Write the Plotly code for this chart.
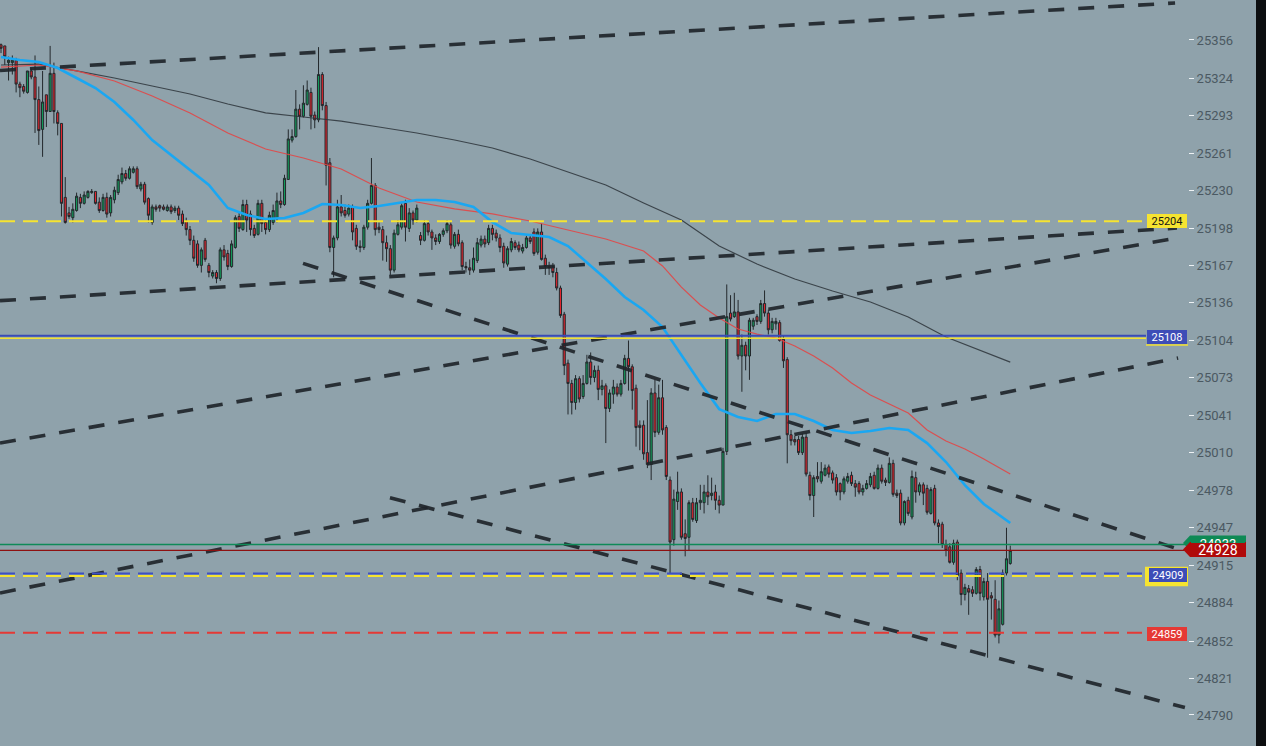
import plotly.graph_objects as go

# ---------------- candle data (price units) ----------------
open_ = [25352,25351,25337,25337,25339,25319,25317,25312,25330,25325,25306,25281,25310,25296,25328,25295,25286,25224,25211,25207,
         25213,25224,25219,25224,25228,25229,25220,25213,25224,25211,25222,25228,25237,25244,25240,25245,25248,25231,25235,25223,
         25203,25216,25217,25216,25213,25216,25213,25215,25210,25204,25197,25188,25185,25167,25188,25167,25158,25161,25156,25180,
         25177,25166,25182,25208,25197,25218,25210,25198,25193,25219,25203,25197,25203,25206,25221,25218,25239,25272,25275,25298,
         25292,25302,25312,25293,25289,25327,25301,25253,25182,25190,25216,25213,25210,25216,25198,25183,25182,25199,25219,25234,
         25199,25197,25186,25181,25163,25193,25199,25219,25198,25211,25205,25192,25188,25202,25195,25190,25187,25193,25196,25201,
         25183,25193,25186,25166,25165,25163,25171,25184,25189,25186,25198,25194,25190,25183,25168,25180,25186,25184,25179,25182,
         25190,25195,25178,25195,25173,25166,25166,25161,25148,25126,25085,25068,25052,25072,25057,25068,25086,25073,25079,25063,
         25066,25047,25059,25065,25059,25068,25089,25082,25064,25033,25033,25010,25000,25060,25027,25056,25031,24987,24937,24969,
         24977,24942,24939,24968,24953,24968,24968,24977,24974,24977,24970,24966,25011,25127,25124,25128,25091,25100,25091,25116,
         25124,25120,25135,25127,25113,25118,25119,25105,25088,25025,25021,25021,25010,25023,24991,24974,24990,24986,24991,24998,
         24993,24989,24984,24977,24986,24991,24984,24984,24977,24980,24983,24991,24980,24997,24987,24985,25001,24976,24976,24951,
         24970,24956,24989,24977,24983,24980,24959,24980,24951,24950,24933,24931,24918,24935,24909,24891,24896,24895,24892,24912,
         24889,24902,24890,24887,24857,24866,24909,24917]
high = [25353,25351,25342,25343,25341,25321,25319,25330,25332,25343,25317,25330,25310,25351,25337,25297,25286,25241,25216,25219,
        25228,25227,25229,25230,25231,25229,25224,25227,25228,25226,25233,25243,25249,25247,25250,25250,25250,25237,25237,25224,
        25218,25218,25218,25218,25218,25218,25217,25217,25213,25207,25200,25192,25188,25182,25190,25169,25163,25163,25182,25184,
        25180,25188,25209,25212,25222,25222,25213,25201,25222,25222,25205,25212,25218,25228,25229,25243,25281,25281,25314,25302,
        25318,25322,25316,25296,25350,25329,25304,25257,25192,25222,25226,25218,25218,25218,25201,25188,25201,25222,25257,25236,
        25203,25200,25192,25184,25197,25205,25219,25222,25215,25213,25218,25195,25205,25205,25197,25193,25194,25198,25205,25203,
        25195,25197,25188,25170,25172,25182,25190,25192,25192,25201,25201,25197,25193,25186,25183,25190,25188,25187,25185,25192,
        25192,25198,25198,25202,25176,25170,25169,25165,25150,25128,25088,25071,25075,25074,25075,25092,25094,25083,25083,25071,
        25068,25063,25071,25068,25071,25092,25104,25084,25067,25037,25037,25054,25064,25071,25067,25071,25033,24990,24979,24994,
        24980,24954,24970,24972,24972,24983,24983,24991,24989,24983,24974,25014,25151,25142,25144,25138,25109,25103,25123,25123,
        25126,25138,25146,25130,25123,25123,25121,25108,25090,25029,25024,25024,25026,25026,24994,24991,25002,25002,25000,25000,
        24995,24992,24985,24990,24993,24994,24987,24986,24983,24987,24993,24994,25000,25000,24989,25006,25004,24979,24979,24970,
        24973,24995,24994,24985,24985,24983,24981,24983,24954,24952,24937,24934,24937,24937,24912,24900,24899,24898,24914,24915,
        24905,24909,24893,24903,24886,24912,24947,24932]
low = [25345,25335,25322,25327,25312,25308,25311,25311,25323,25278,25268,25258,25283,25296,25286,25276,25208,25202,25206,25203,
       25212,25215,25218,25223,25227,25218,25211,25212,25207,25208,25219,25226,25235,25238,25239,25244,25231,25229,25218,25203,
       25201,25212,25212,25213,25212,25210,25211,25205,25200,25192,25184,25170,25165,25161,25170,25157,25156,25152,25154,25171,
       25163,25165,25181,25195,25196,25195,25192,25190,25192,25195,25193,25195,25201,25203,25215,25217,25239,25270,25274,25281,
       25291,25301,25281,25282,25287,25297,25234,25178,25157,25188,25208,25207,25208,25188,25180,25178,25180,25197,25218,25192,
       25194,25171,25170,25159,25161,25192,25197,25187,25195,25201,25203,25184,25187,25192,25180,25184,25185,25191,25194,25181,
       25181,25183,25163,25161,25159,25161,25169,25182,25182,25184,25188,25187,25178,25165,25166,25178,25180,25178,25177,25181,
       25185,25175,25176,25171,25159,25159,25157,25146,25123,25075,25042,25042,25046,25052,25055,25067,25067,25069,25054,25058,
       25018,25044,25051,25057,25057,25067,25062,25046,25015,25012,25004,24997,24987,25023,25025,25025,24987,24909,24932,24962,
       24937,24923,24928,24952,24951,24962,24959,24966,24970,24962,24959,24966,25008,25120,25123,25088,25061,25079,25071,25113,
       25117,25118,25124,25109,25110,25113,25103,25081,25001,25016,25016,25008,25008,24990,24970,24956,24985,24984,24990,24989,
       24984,24974,24970,24975,24984,24982,24973,24975,24974,24979,24981,24979,24979,24984,24982,24984,24973,24972,24949,24949,
       24957,24954,24968,24974,24966,24958,24958,24949,24934,24930,24923,24917,24916,24903,24882,24886,24874,24889,24891,24886,
       24886,24838,24870,24855,24850,24865,24907,24916]
close = [25349,25342,25339,25339,25319,25316,25313,25330,25325,25306,25280,25304,25296,25328,25296,25286,25219,25203,25208,25214,
         25225,25219,25226,25229,25229,25219,25213,25224,25210,25224,25230,25239,25244,25240,25248,25248,25233,25235,25220,25209,
         25216,25214,25215,25214,25216,25212,25215,25209,25202,25197,25188,25173,25167,25180,25172,25161,25161,25156,25180,25174,
         25166,25185,25207,25198,25218,25205,25197,25192,25219,25202,25197,25209,25213,25221,25218,25240,25273,25275,25298,25292,
         25303,25314,25292,25289,25327,25301,25251,25182,25190,25216,25211,25209,25215,25195,25183,25182,25199,25219,25234,25197,
         25197,25186,25181,25163,25194,25201,25217,25199,25211,25205,25215,25188,25202,25195,25190,25187,25193,25196,25202,25184,
         25193,25185,25166,25165,25163,25173,25186,25189,25185,25198,25193,25190,25182,25169,25181,25187,25182,25180,25182,25190,
         25187,25177,25195,25172,25166,25165,25161,25148,25125,25083,25068,25052,25072,25055,25068,25086,25073,25079,25063,25066,
         25047,25060,25065,25059,25068,25089,25082,25062,25031,25031,25009,25000,25060,25027,25056,25029,24990,24935,24971,24977,
         24939,24938,24968,24954,24968,24970,24977,24973,24976,24970,24966,25011,25124,25122,25128,25091,25100,25091,25121,25121,
         25120,25135,25127,25113,25120,25120,25104,25087,25025,25020,25019,25010,25023,24992,24974,24989,24988,24994,24997,24992,
         24987,24977,24977,24988,24990,24984,24981,24977,24980,24984,24990,24980,24997,24986,24985,25001,24975,24974,24951,24969,
         24959,24990,24977,24983,24976,24960,24979,24951,24948,24933,24928,24918,24934,24907,24891,24897,24893,24892,24912,24892,
         24902,24887,24888,24857,24879,24909,24921,24928]
candle_idx = list(range(len(close)))

# ---------------- moving averages ----------------
ma_fast_idx = [0,5,10,15,20,25,30,35,40,45,50,55,60,65,70,75,80,85,90,95,100,105,110,115,120,125,130,135,140,145,
               150,155,160,165,170,175,180,185,190,195,200,205,210,215,220,225,230,235,240,245,250,255,260,267]
ma_fast_val = [25341.7,25339.2,25337.5,25332.5,25324.1,25315.7,25304.0,25288.9,25272.1,25259.5,25246.9,25234.4,25215.1,
               25209.2,25205.9,25206.7,25210.9,25218.4,25217.6,25215.1,25216.8,25219.3,25221.8,25221.8,25220.1,25215.9,
               25203.3,25194.1,25192.5,25190.8,25183.2,25169.0,25155.6,25140.5,25129.6,25115.3,25091.8,25068.4,25046.5,
               25039.8,25036.5,25042.4,25042.4,25036.5,25029.0,25026.4,25028.1,25030.6,25029.0,25018.0,25002.1,24982.8,
               24966.9,24951.0]
ma_mid_idx = [0,10,20,30,40,50,60,70,80,90,100,110,120,130,140,150,160,170,175,180,185,190,195,200,205,210,215,220,
              225,230,235,240,245,250,255,260,267]
ma_mid_val = [25333.3,25335.0,25330.0,25321.6,25309.0,25294.8,25278.0,25264.6,25257.0,25247.8,25231.9,25220.1,25214.3,
              25210.1,25204.2,25196.6,25189.1,25179.0,25166.5,25148.8,25133.8,25122.9,25113.6,25109.4,25106.1,25099.4,
              25091.0,25080.9,25068.4,25058.3,25050.7,25043.2,25029.0,25019.7,25013.0,25004.6,24992.0]
ma_slow_idx = [0,10,20,30,40,50,60,70,80,90,100,110,120,130,140,150,160,170,180,190,200,210,220,230,240,250,260,267]
ma_slow_val = [25335.0,25335.8,25330.0,25324.1,25317.4,25310.7,25302.3,25294.8,25291.4,25288.0,25283.0,25278.0,25272.1,
               25265.4,25256.2,25245.3,25234.4,25219.3,25205.0,25183.2,25168.1,25155.6,25145.5,25136.3,25123.7,25106.9,
               25094.3,25085.9]

# ---------------- trend lines (candle index, price) ----------------
trend_x0 = [-0.265, -0.265, -0.265, -0.265, 79.9, 102.9]
trend_y0 = [25330.4, 25137.4, 25018.0, 24892.3, 25168.7, 24972.2]
trend_x1 = [310.6, 311.1, 311.1, 311.4, 311.1, 313.2]
trend_y1 = [25387.0, 25198.3, 25189.9, 25089.3, 24929.5, 24796.2]

# ---------------- horizontal levels ----------------
level_yellow = 25204
level_blue = 25108
level_blue_under = 25105.8
level_green = 24933
level_last = 24928
level_dash_blue = 24908.7
level_dash_yellow = 24906.6
level_red = 24859

# ---------------- axis ticks ----------------
tick_vals = [25356,25324,25293,25261,25230,25198,25167,25136,25104,25073,25041,25010,24978,24947,24915,24884,24852,24821,24790]
tick_text = [str(v) for v in tick_vals]

BG = "#8fa2ab"
GREEN = "#139a5b"
RED = "#e0262f"
OUTLINE = "#23282c"
PLOT_W = 1188.0

fig = go.Figure()
fig.add_trace(go.Candlestick(
    x=candle_idx, open=open_, high=high, low=low, close=close,
    increasing=dict(line=dict(color=OUTLINE, width=1), fillcolor=GREEN),
    decreasing=dict(line=dict(color=OUTLINE, width=1), fillcolor=RED),
    whiskerwidth=0, hoverinfo="skip", showlegend=False))
fig.add_trace(go.Scatter(x=ma_slow_idx, y=ma_slow_val, mode="lines",
                         line=dict(color="rgba(45,52,58,0.85)", width=1.2), hoverinfo="skip"))
fig.add_trace(go.Scatter(x=ma_mid_idx, y=ma_mid_val, mode="lines",
                         line=dict(color="rgba(226,70,70,0.9)", width=1.2), hoverinfo="skip"))
fig.add_trace(go.Scatter(x=ma_fast_idx, y=ma_fast_val, mode="lines",
                         line=dict(color="#1aa7f2", width=2.6), hoverinfo="skip"))

shapes = []
for x0, y0, x1, y1 in zip(trend_x0, trend_y0, trend_x1, trend_y1):
    shapes.append(dict(type="line", xref="x", yref="y", x0=x0, y0=y0, x1=x1, y1=y1,
                       line=dict(color="rgba(32,37,42,0.92)", width=3.6, dash="16px,14px")))

xl = 1146 / PLOT_W
xg = 1185 / PLOT_W
def hline(y, color, width, dash="solid", x1=xl):
    return dict(type="line", xref="paper", yref="y", x0=0, x1=x1, y0=y, y1=y,
                line=dict(color=color, width=width, dash=dash))

shapes += [
    hline(level_yellow, "#f6e431", 2, "15px,8px"),
    hline(level_blue_under, "#f2df33", 1.5),
    hline(level_blue, "#3a4bb6", 2),
    hline(level_green, "#0f8a58", 1.5, x1=xg),
    hline(level_last, "#8e1010", 1.3, x1=xg),
    hline(level_dash_blue, "#3f50c2", 2, "15px,8px"),
    hline(level_dash_yellow, "#f6e431", 2, "15px,8px"),
    hline(level_red, "#e53935", 2, "15px,8px"),
]

# right dark strip
shapes.append(dict(type="rect", xref="paper", yref="paper", x0=1256 / PLOT_W, x1=1.2, y0=0, y1=1,
                   fillcolor="#0c0e10", line=dict(width=0), layer="above"))
# label decorations
shapes.append(dict(type="line", xref="paper", yref="y", x0=1146 / PLOT_W, x1=1188 / PLOT_W,
                   y0=25100.2, y1=25100.2, line=dict(color="#f2df33", width=1.5)))
shapes.append(dict(type="rect", xref="paper", yref="y", x0=1145 / PLOT_W, x1=1188 / PLOT_W,
                   y0=24898.0, y1=24914.2, fillcolor="#f6e431", line=dict(width=0)))
# current price arrows
for yc, col in [(24934.3, "#0e8a55"), (24928.7, "#b00a0a")]:
    ytop = yc + 6.3
    ybot = yc - 6.3
    shapes.append(dict(type="path", xref="paper", yref="y",
                       path=f"M {1183/PLOT_W},{yc} L {1190/PLOT_W},{ytop} L {1246/PLOT_W},{ytop} "
                            f"L {1246/PLOT_W},{ybot} L {1190/PLOT_W},{ybot} Z",
                       fillcolor=col, line=dict(width=0)))

cx = 1167 / PLOT_W
def label(y, text, bg, fc, xc=cx, w=40, h=14, size=11):
    return dict(xref="paper", yref="y", x=xc, y=y, text=text, showarrow=False,
                bgcolor=bg, font=dict(family="Roboto", size=size, color=fc),
                width=w, height=h, borderpad=0, borderwidth=0, xanchor="center", yanchor="middle")

annotations = [
    label(25204.2, "25204", "#f6e431", "#151515"),
    label(25106.9, "25108", "#3d4db7", "#ffffff"),
    label(24907.4, "24909", "#3d4db7", "#ffffff", xc=1168 / PLOT_W, w=38, h=14),
    label(24857.9, "24859", "#e53935", "#ffffff"),
    label(24934.3, "24933", "#0e8a55", "#ffffff", xc=1218 / PLOT_W, w=54, h=14, size=13),
    label(24928.7, "24928", "#b00a0a", "#ffffff", xc=1218 / PLOT_W, w=54, h=14, size=14),
]

fig.update_layout(
    width=1266, height=746,
    margin=dict(l=0, r=78, t=0, b=0),
    paper_bgcolor=BG, plot_bgcolor=BG,
    showlegend=False, boxgap=0.2,
    xaxis=dict(range=[-0.2646, 314.02], visible=False, rangeslider=dict(visible=False), fixedrange=True),
    yaxis=dict(range=[24764.0, 25389.5], side="right", showgrid=False, zeroline=False, showline=False,
               tickvals=tick_vals, ticktext=tick_text, ticks="outside", ticklen=5, tickwidth=1,
               tickcolor="#eef2f4", tickfont=dict(family="Roboto", size=13, color="#4b5962"), fixedrange=True),
    shapes=shapes, annotations=annotations,
)

fig.write_html("out.html", config={"displayModeBar": False},
               post_script="document.body.style.margin='0';document.body.style.overflow='hidden';")
